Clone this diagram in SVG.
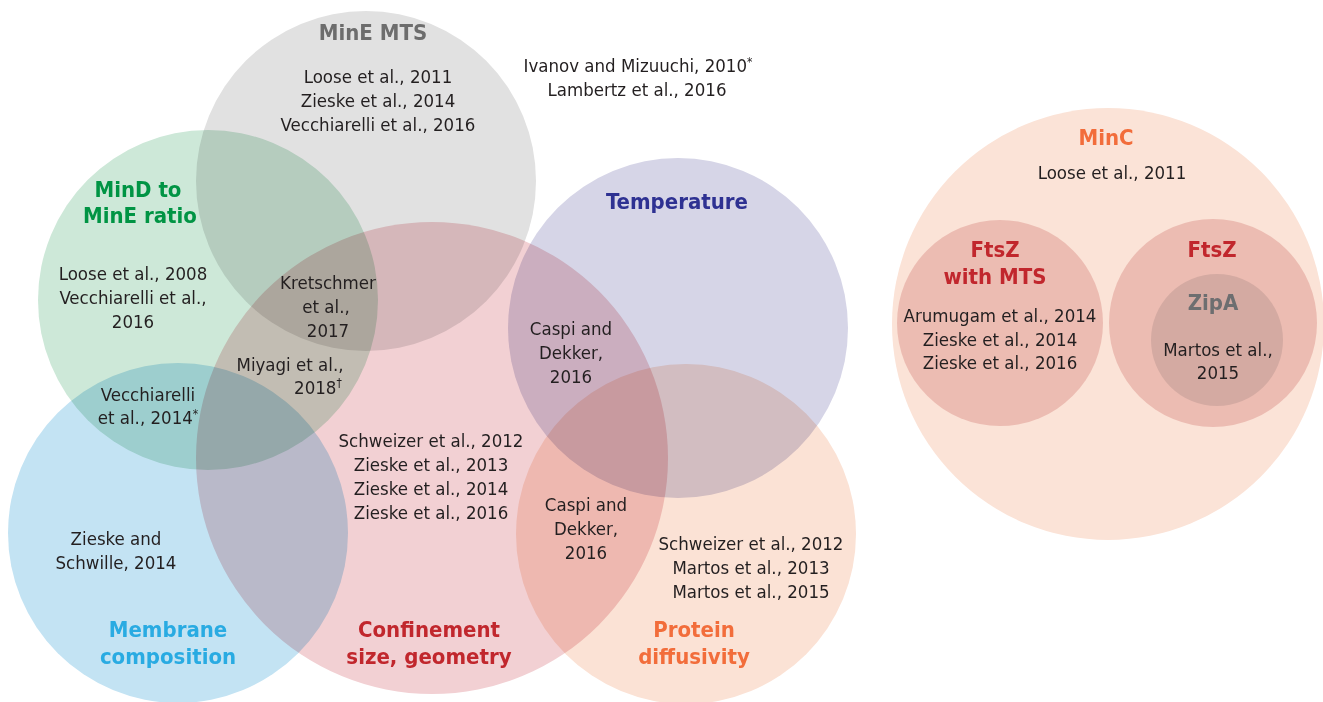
<svg xmlns="http://www.w3.org/2000/svg" width="1323" height="702" viewBox="0 0 1323 702">
<style>
.c{mix-blend-mode:multiply}
text{font-family:"DejaVu Sans Condensed","DejaVu Sans","Liberation Sans",sans-serif;font-stretch:condensed;text-anchor:middle}
.r{font-size:18.5px;fill:#231f20}
.h{font-size:22px;font-weight:bold}
.sup{font-size:12px}
</style>
<rect width="1323" height="702" fill="#ffffff"/>
<g id="mine-mts">
<circle class="c" cx="366" cy="181" r="170" fill="#e1e1e1"/>
<text class="h" x="373" y="40" fill="#6d6d6d">MinE MTS</text>
<text class="r" x="378" y="83">Loose et al., 2011</text>
<text class="r" x="378" y="107">Zieske et al., 2014</text>
<text class="r" x="378" y="131">Vecchiarelli et al., 2016</text>
</g>
<g id="mind-mine-ratio">
<circle class="c" cx="208" cy="300" r="170" fill="#cde8d8"/>
<text class="h" x="138" y="197" fill="#009444">MinD to</text>
<text class="h" x="140" y="223" fill="#009444">MinE ratio</text>
<text class="r" x="133" y="280">Loose et al., 2008</text>
<text class="r" x="133" y="304">Vecchiarelli et al.,</text>
<text class="r" x="133" y="328">2016</text>
</g>
<g id="membrane-composition">
<circle class="c" cx="178" cy="533" r="170" fill="#c3e3f3"/>
<text class="h" x="168" y="637" fill="#29abe2">Membrane</text>
<text class="h" x="168" y="664" fill="#29abe2">composition</text>
<text class="r" x="116" y="545">Zieske and</text>
<text class="r" x="116" y="569">Schwille, 2014</text>
</g>
<g id="confinement">
<circle class="c" cx="432" cy="458" r="236" fill="#f2d0d3"/>
<text class="h" x="429" y="637" fill="#c1272d">Confinement</text>
<text class="h" x="429" y="664" fill="#c1272d">size, geometry</text>
<text class="r" x="431" y="447">Schweizer et al., 2012</text>
<text class="r" x="431" y="471">Zieske et al., 2013</text>
<text class="r" x="431" y="495">Zieske et al., 2014</text>
<text class="r" x="431" y="519">Zieske et al., 2016</text>
</g>
<g id="temperature">
<circle class="c" cx="678" cy="328" r="170" fill="#d6d5e7"/>
<text class="h" x="677" y="209" fill="#2e3192">Temperature</text>
</g>
<g id="protein-diffusivity">
<circle class="c" cx="686" cy="534" r="170" fill="#fbe2d5"/>
<text class="h" x="694" y="637" fill="#f26d3b">Protein</text>
<text class="h" x="694" y="664" fill="#f26d3b">diffusivity</text>
<text class="r" x="751" y="550">Schweizer et al., 2012</text>
<text class="r" x="751" y="574">Martos et al., 2013</text>
<text class="r" x="751" y="598">Martos et al., 2015</text>
</g>
<g id="overlap-labels">
<text class="r" x="328" y="289">Kretschmer</text>
<text class="r" x="326" y="313">et al.,</text>
<text class="r" x="328" y="337">2017</text>
<text class="r" x="290" y="371">Miyagi et al.,</text>
<text class="r" x="318" y="394">2018<tspan class="sup" dy="-7">†</tspan></text>
<text class="r" x="148" y="401">Vecchiarelli</text>
<text class="r" x="148" y="424">et al., 2014<tspan class="sup" dy="-6">*</tspan></text>
<text class="r" x="571" y="335">Caspi and</text>
<text class="r" x="571" y="359">Dekker,</text>
<text class="r" x="571" y="383">2016</text>
<text class="r" x="586" y="511">Caspi and</text>
<text class="r" x="586" y="535">Dekker,</text>
<text class="r" x="586" y="559">2016</text>
</g>
<g id="unassigned">
<text class="r" x="638" y="72">Ivanov and Mizuuchi, 2010<tspan class="sup" dy="-6">*</tspan></text>
<text class="r" x="637" y="96">Lambertz et al., 2016</text>
</g>
<g id="minc">
<circle cx="1108" cy="324" r="216" fill="#fbe3d7"/>
<text class="h" x="1106" y="145" fill="#f26d3b">MinC</text>
<text class="r" x="1112" y="179">Loose et al., 2011</text>
</g>
<g id="ftsz-mts">
<circle cx="1000" cy="323" r="103" fill="#ecbcb2"/>
<text class="h" x="995" y="257" fill="#c1272d">FtsZ</text>
<text class="h" x="995" y="284" fill="#c1272d">with MTS</text>
<text class="r" x="1000" y="322">Arumugam et al., 2014</text>
<text class="r" x="1000" y="346">Zieske et al., 2014</text>
<text class="r" x="1000" y="369">Zieske et al., 2016</text>
</g>
<g id="ftsz">
<circle cx="1213" cy="323" r="104" fill="#ecbcb2"/>
<text class="h" x="1212" y="257" fill="#c1272d">FtsZ</text>
</g>
<g id="zipa">
<circle cx="1217" cy="340" r="66" fill="#d4aaa2"/>
<text class="h" x="1213" y="310" fill="#6d6e70">ZipA</text>
<text class="r" x="1218" y="356">Martos et al.,</text>
<text class="r" x="1218" y="379">2015</text>
</g>
</svg>
